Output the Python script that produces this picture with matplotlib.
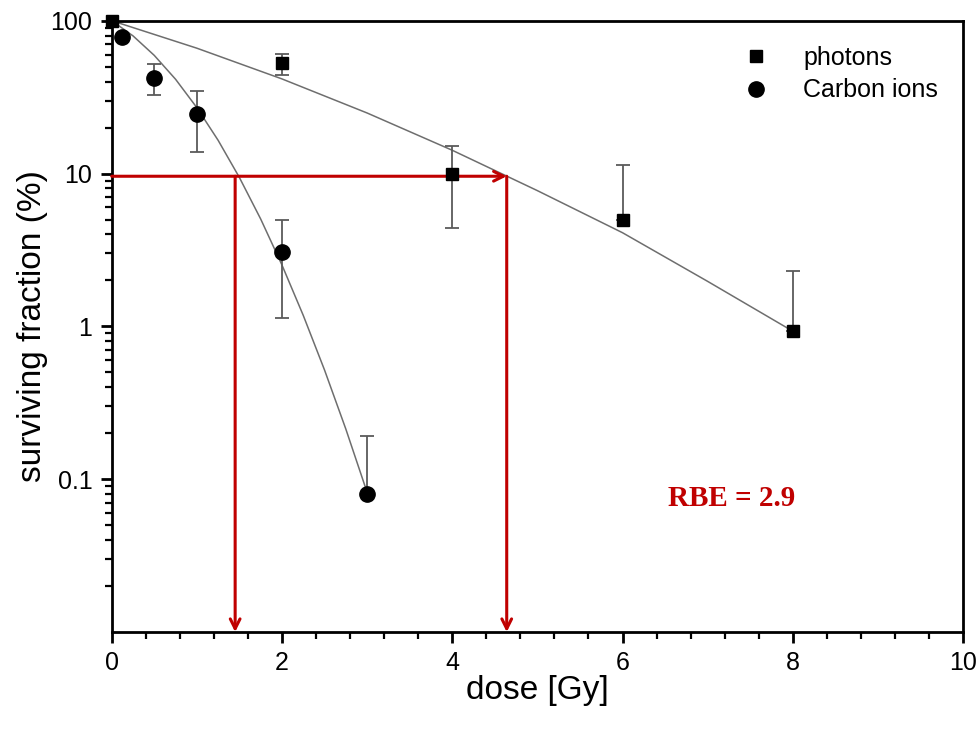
# surviving fraction vs dose: photons vs carbon ions (log scale)

import matplotlib.pyplot as plt
from matplotlib.ticker import FixedLocator, MultipleLocator, NullFormatter

plt.rcParams['font.family'] = ['Liberation Sans', 'DejaVu Sans']

# measured points
photon_dose = [0, 2, 4, 6, 8]
photon_sf = [100, 53, 10, 5.0, 0.93]
photon_err_lo = [0, 9, 5.6, 0, 0]
photon_err_hi = [0, 8, 5.2, 6.3, 1.38]

carbon_dose = [0.12, 0.5, 1, 2, 3]
carbon_sf = [78, 42, 24.5, 3.07, 0.08]
carbon_err_lo = [0, 9.5, 10.6, 1.94, 0]
carbon_err_hi = [0, 10, 10.1, 1.9, 0.113]

# fitted curves
photon_fit_dose = [0, 1, 2, 3, 4, 5, 6, 7, 8]
photon_fit_sf = [100, 66.1, 41.6, 24.9, 14.2, 7.73, 4.1, 1.97, 0.93]
carbon_fit_dose = [0, 0.25, 0.5, 0.75, 1, 1.25, 1.5, 1.75, 2, 2.25, 2.5, 2.75, 3]
carbon_fit_sf = [100, 79.6, 59.3, 41.4, 27.0, 16.5, 9.42, 5.04, 2.52, 1.18, 0.518, 0.213, 0.082]

# iso-effect construction
iso_level = 9.6
carbon_iso_dose = 1.45
photon_iso_dose = 4.64
rbe_text = 'RBE = 2.9'

red = '#c00000'
gray = '#5a5a5a'

fig = plt.figure(figsize=(9.79, 7.29), dpi=100)
ax = fig.add_axes([0.1141, 0.133, 0.8696, 0.8386])

ax.plot(photon_fit_dose, photon_fit_sf, color='#6e6e6e', lw=1.1, zorder=2)
ax.plot(carbon_fit_dose, carbon_fit_sf, color='#6e6e6e', lw=1.1, zorder=2)

ax.errorbar(photon_dose, photon_sf, yerr=[photon_err_lo, photon_err_hi], fmt='none',
            ecolor=gray, elinewidth=1.3, capsize=5, capthick=1.3, zorder=3)
ax.errorbar(carbon_dose, carbon_sf, yerr=[carbon_err_lo, carbon_err_hi], fmt='none',
            ecolor=gray, elinewidth=1.3, capsize=5, capthick=1.3, zorder=3)

ax.plot(photon_dose, photon_sf, 's', color='black', ms=9, ls='none',
        label='photons', clip_on=False, zorder=5)
ax.plot(carbon_dose, carbon_sf, 'o', color='black', ms=11, ls='none',
        label='Carbon ions', clip_on=False, zorder=5)

# red arrows
arrow_kw = dict(arrowstyle='->,head_length=0.7,head_width=0.35', color=red, lw=2.2,
                shrinkA=0, shrinkB=0)
ax.annotate('', xy=(photon_iso_dose, iso_level), xytext=(0, iso_level), arrowprops=arrow_kw)
ax.annotate('', xy=(carbon_iso_dose, 0.01), xytext=(carbon_iso_dose, iso_level), arrowprops=arrow_kw)
ax.annotate('', xy=(photon_iso_dose, 0.01), xytext=(photon_iso_dose, iso_level), arrowprops=arrow_kw)

ax.text(7.28, 0.075, rbe_text, color=red, fontsize=21, fontweight='bold',
        family='Liberation Serif', ha='center', va='center')

ax.set_yscale('log')
ax.set_xlim(0, 10)
ax.set_ylim(0.01, 100)

ax.xaxis.set_major_locator(MultipleLocator(2))
ax.xaxis.set_minor_locator(MultipleLocator(0.4))
ax.yaxis.set_major_locator(FixedLocator([0.1, 1, 10, 100]))
ax.set_yticklabels(['0.1', '1', '10', '100'])
minor_y = [m * 10.0 ** e for e in range(-2, 2) for m in range(2, 10)]
ax.yaxis.set_minor_locator(FixedLocator(minor_y))
ax.yaxis.set_minor_formatter(NullFormatter())

ax.tick_params(which='major', direction='out', length=8, width=2, labelsize=18, pad=6)
ax.tick_params(which='minor', direction='out', length=5, width=1.6)
for sp in ax.spines.values():
    sp.set_linewidth(2)

ax.set_xlabel('dose [Gy]', fontsize=24, labelpad=0)
ax.set_ylabel('surviving fraction (%)', fontsize=24, labelpad=2)

ax.legend(loc='upper right', frameon=False, fontsize=18, handletextpad=0.9,
          borderaxespad=0.6, labelspacing=0.35)

plt.savefig('out.png', dpi=100)
